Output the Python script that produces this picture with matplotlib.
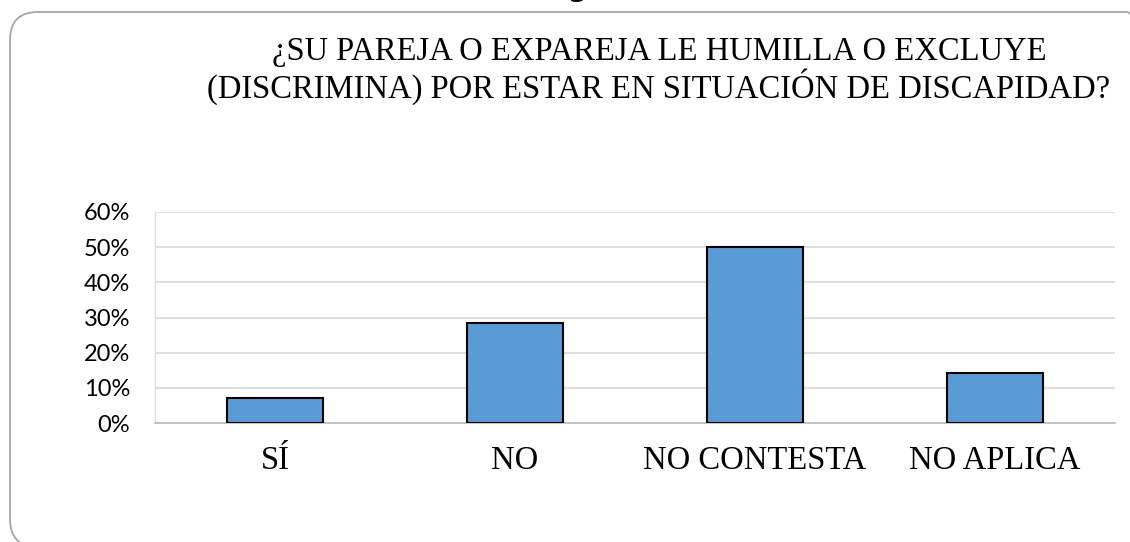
import matplotlib.pyplot as plt
from matplotlib.patches import FancyBboxPatch
from matplotlib.ticker import PercentFormatter

# datos
categorias = ["SÍ", "NO", "NO CONTESTA", "NO APLICA"]
porcentajes = [1 / 14, 4 / 14, 7 / 14, 2 / 14]
y_ticks = [0, 0.1, 0.2, 0.3, 0.4, 0.5, 0.6]
titulo = "¿SU PAREJA O EXPAREJA LE HUMILLA O EXCLUYE\n(DISCRIMINA) POR ESTAR EN SITUACIÓN DE DISCAPIDAD?"

W, H = 1130, 542
fig = plt.figure(figsize=(W / 100, H / 100), dpi=100)
fig.patch.set_facecolor("white")

# marco redondeado del grafico (en pixeles)
marco = FancyBboxPatch((10, -5), 1145, 535,
                       boxstyle="round,pad=0,rounding_size=28",
                       transform=None, facecolor="none",
                       edgecolor="#a6a6a6", linewidth=1.3)
fig.patches.append(marco)

# fragmento de texto cortado arriba
fig.text(578 / W, 1 + 12 / H, "g", ha="center", va="center",
         fontsize=20, fontweight="bold", color="black",
         family="DejaVu Sans")

ax = fig.add_axes([155 / W, (H - 423) / H, 960 / W, 211 / H])
ax.bar(range(len(categorias)), porcentajes, width=0.4,
       color="#5B9BD5", edgecolor="black", linewidth=1.5, zorder=3)

ax.set_xlim(-0.5, len(categorias) - 0.5)
ax.set_ylim(0, 0.6)
ax.set_yticks(y_ticks)
ax.yaxis.set_major_formatter(PercentFormatter(1.0, decimals=0))
ax.grid(axis="y", color="#d9d9d9", linewidth=1.2, zorder=0)
ax.set_axisbelow(True)

ax.set_xticks(range(len(categorias)))
ax.set_xticklabels(categorias, family="Liberation Serif", fontsize=23.5)
ax.tick_params(axis="x", length=0, pad=16)
ax.tick_params(axis="y", length=0, pad=18, labelsize=17)
for lab in ax.get_yticklabels():
    lab.set_family("Lato")

for s in ["top", "right"]:
    ax.spines[s].set_visible(False)
ax.spines["left"].set_color("#d9d9d9")
ax.spines["bottom"].set_color("#bfbfbf")
ax.spines["bottom"].set_linewidth(1.3)

fig.text(659 / W, 1 - 71 / H, titulo, ha="center", va="center",
         family="Liberation Serif", fontsize=23.5, linespacing=1.05)

fig.savefig("out.png", dpi=100)
